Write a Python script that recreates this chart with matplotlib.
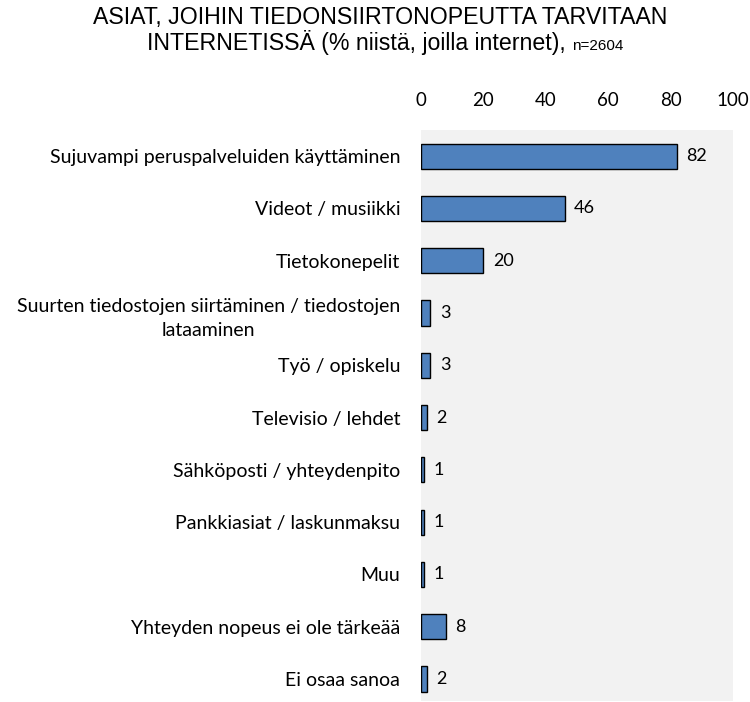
import matplotlib
matplotlib.use("Agg")
import matplotlib.pyplot as plt
import numpy as np

categories = [
    "Sujuvampi peruspalveluiden käyttäminen",
    "Videot / musiikki",
    "Tietokonepelit",
    "Suurten tiedostojen siirtäminen / tiedostojen\nlataaminen",
    "Työ / opiskelu",
    "Televisio / lehdet",
    "Sähköposti / yhteydenpito",
    "Pankkiasiat / laskunmaksu",
    "Muu",
    "Yhteyden nopeus ei ole tärkeää",
    "Ei osaa sanoa",
]
values = [82, 46, 20, 3, 3, 2, 1, 1, 1, 8, 2]
ticks = [0, 20, 40, 60, 80, 100]

label_font = "Lato"
title_font = "Liberation Sans"

fig = plt.figure(figsize=(7.5, 7.02), dpi=100)
ax = fig.add_axes([421 / 750, 1 - 701 / 702, 312 / 750, 571 / 702])
ax.set_facecolor("#f2f2f2")

y = np.arange(len(categories))
ax.barh(y, values, height=0.48, color="#4f81bd", edgecolor="black", linewidth=1)
for yi, v in zip(y, values):
    ax.text(v + 3, yi, str(v), va="center", ha="left", fontsize=13,
            family=label_font)

ax.set_xlim(0, 100)
ax.set_ylim(10.42, -0.5)
ax.set_xticks(ticks)
ax.xaxis.tick_top()
ax.set_xticklabels([str(t) for t in ticks], fontsize=13.5, family=label_font)
ax.tick_params(axis="x", length=0, pad=15)
ax.set_yticks(y)
ax.set_yticklabels(categories, fontsize=14, family=label_font,
                   multialignment="center", linespacing=1.55)
ax.tick_params(axis="y", length=0, pad=15)
for s in ax.spines.values():
    s.set_visible(False)

fig.text(380.5 / 750, 1 - 24 / 702, "ASIAT, JOIHIN TIEDONSIIRTONOPEUTTA TARVITAAN",
         ha="center", va="baseline", fontsize=16.7, family=title_font)
t2 = fig.text(0.0, 1 - 50 / 702, "INTERNETISSÄ (% niistä, joilla internet), ",
              ha="left", va="baseline", fontsize=16.7, family=title_font)
t3 = fig.text(0.0, 1 - 50 / 702, "n=2604", ha="left", va="baseline", fontsize=11,
              family=title_font)

# center the two-part second title line
fig.canvas.draw()
r = fig.canvas.get_renderer()
w2 = t2.get_window_extent(r).width
w3 = t3.get_window_extent(r).width
x0 = (385 - (w2 + w3) / 2) / 750
t2.set_x(x0)
t3.set_x(x0 + w2 / 750)

fig.savefig("out.png", dpi=100)
